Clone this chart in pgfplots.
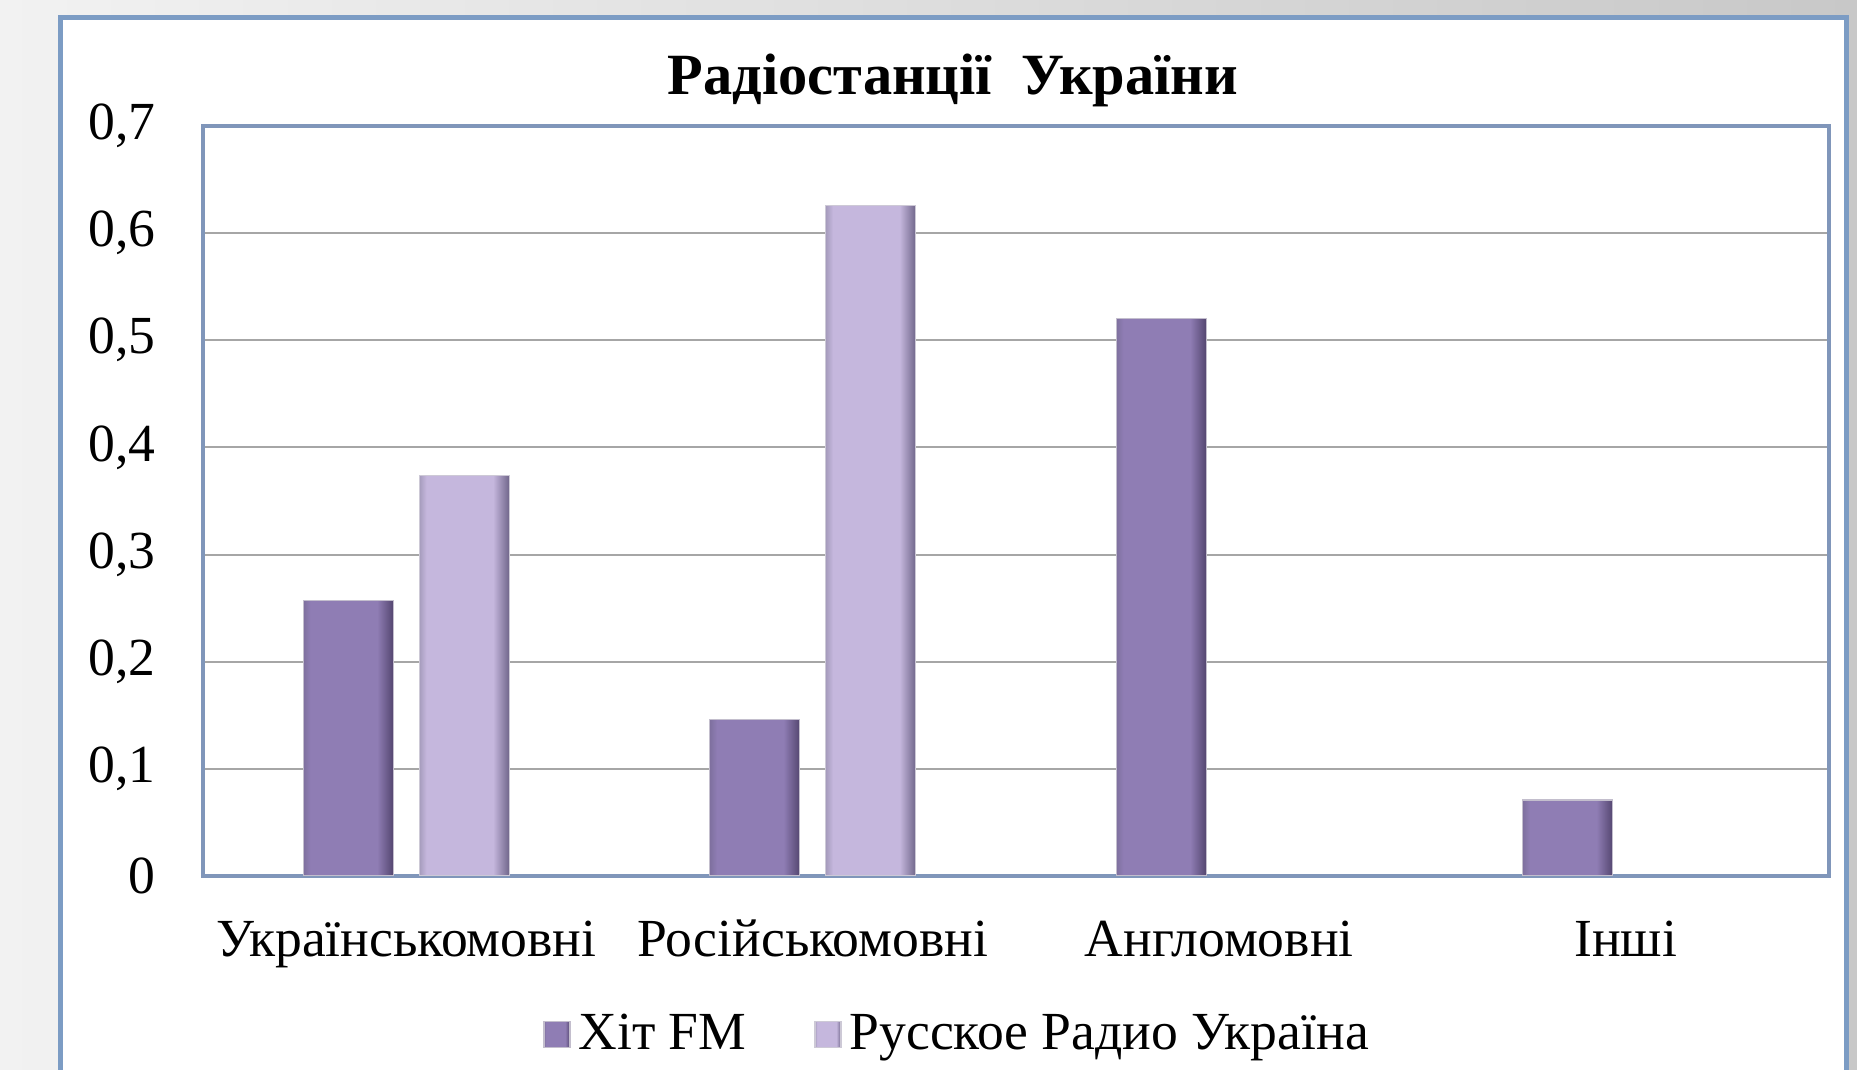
\documentclass[border=0pt]{standalone}
\usepackage{fontspec}
\setmainfont{Liberation Serif}
\usepackage{pgfplots}
\pgfplotsset{compat=1.18}
\definecolor{bgl}{RGB}{242,242,242}
\definecolor{bgr}{RGB}{200,200,200}
\definecolor{framec}{RGB}{124,156,196}
\definecolor{axisc}{RGB}{128,150,186}
\definecolor{gridc}{RGB}{166,166,166}
\definecolor{hitmain}{RGB}{143,125,180}
\definecolor{hitl}{RGB}{126,112,158}
\definecolor{hitdark}{RGB}{84,70,112}
\definecolor{rusmain}{RGB}{197,183,221}
\definecolor{rusl}{RGB}{165,155,188}
\definecolor{rusdark}{RGB}{112,102,138}
\pgfdeclarehorizontalshading{hitbar}{100bp}{color(0bp)=(hitl); color(25bp)=(hitl); color(29bp)=(hitmain); color(66bp)=(hitmain); color(75bp)=(hitdark); color(100bp)=(hitdark)}
\pgfdeclarehorizontalshading{rusbar}{100bp}{color(0bp)=(rusl); color(25bp)=(rusl); color(29bp)=(rusmain); color(66bp)=(rusmain); color(75bp)=(rusdark); color(100bp)=(rusdark)}
\pgfplotsset{
  hitstyle/.style={ybar, bar width=22.5pt, bar shift=-14.5pt, shade, shading=hitbar, draw=hitdark!35, line width=0.3pt},
  russtyle/.style={ybar, bar width=22.5pt, bar shift=14.5pt, shade, shading=rusbar, draw=rusdark!35, line width=0.3pt},
}
\begin{document}
\begin{tikzpicture}
\useasboundingbox (0,0) rectangle (464.25pt,267.5pt);
\shade[left color=bgl, right color=bgr] (0,0) rectangle (464.25pt,267.5pt);
\begin{scope}
\clip (0,0) rectangle (464.25pt,267.5pt);
\draw[framec, line width=1.25pt, fill=white] (15pt,-10pt) rectangle (461.5pt,263pt);
\end{scope}
\node[font=\bfseries\fontsize{14.6}{17}\selectfont, anchor=base] at (238.25pt,243.8pt) {Радіостанції\ \ України};
\begin{axis}[
  at={(50.75pt,48.5pt)}, anchor=south west,
  scale only axis, width=406.5pt, height=187.5pt,
  xmin=-0.5, xmax=3.5, ymin=0, ymax=0.7,
  xtick={0,1,2,3},
  xticklabels={Українськомовні,Російськомовні,Англомовні,Інші},
  ytick={0,0.1,0.2,0.3,0.4,0.5,0.6,0.7},
  yticklabels={0,{0,1},{0,2},{0,3},{0,4},{0,5},{0,6},{0,7}},
  ymajorgrids, major grid style={color=gridc, line width=0.5pt},
  axis line style={color=axisc, line width=1pt},
  major tick length=0pt,
  tick label style={font=\fontsize{13.4}{16}\selectfont},
  xticklabel style={anchor=base, yshift=-20.25pt},
  yticklabel style={anchor=east, inner sep=0pt, xshift=-11.75pt},
  legend style={at={(0.4656,-0.2117)}, anchor=center, draw=none, fill=none,
    legend columns=-1, font=\fontsize{13.4}{16}\selectfont,
    /tikz/every even column/.append style={column sep=15pt}},
  legend image code/.code={\draw[#1] (0pt,-3.25pt) rectangle (6.5pt,3.25pt);},
]
\addplot[hitstyle] coordinates {(0,0.257)};
\addplot[russtyle] coordinates {(0,0.374)};
\addplot[hitstyle, forget plot] coordinates {(1,0.146)};
\addplot[hitstyle, forget plot] coordinates {(2,0.520)};
\addplot[hitstyle, forget plot] coordinates {(3,0.071)};
\addplot[russtyle, forget plot] coordinates {(1,0.626)};
\legend{Хіт FM, Русское Радио Україна}
\end{axis}
\end{tikzpicture}
\end{document}
